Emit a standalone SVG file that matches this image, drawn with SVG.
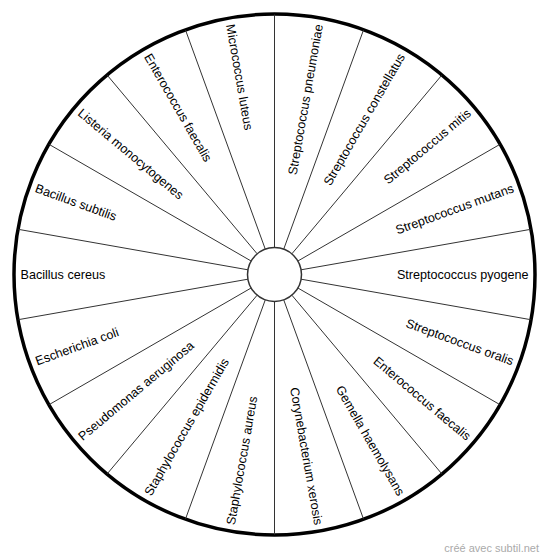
<svg xmlns="http://www.w3.org/2000/svg" width="550" height="559" viewBox="0 0 550 559">
<style>
.lbl{font-family:"Liberation Sans",Arial,sans-serif;font-size:12.6px;fill:#000}
.r{text-anchor:end}
.l{text-anchor:start}
.sp{stroke:#333;stroke-width:1;fill:none}
.foot{font-family:"Liberation Sans",Arial,sans-serif;font-size:11px;fill:#aaa;text-anchor:end}
</style>
<rect width="550" height="559" fill="#fff"/>
<g id="wheel">
<circle cx="274.5" cy="274.5" r="260.5" fill="#fff" stroke="#000" stroke-width="3.5"/>
</g>
<g id="connectors" class="sp">
<line x1="274.5" y1="247.5" x2="274.5" y2="14.5"/>
<line x1="283.73" y1="249.13" x2="363.43" y2="30.18"/>
<line x1="291.86" y1="253.82" x2="441.63" y2="75.33"/>
<line x1="297.88" y1="261" x2="499.67" y2="144.5"/>
<line x1="301.09" y1="269.81" x2="530.55" y2="229.35"/>
<line x1="301.09" y1="279.19" x2="530.55" y2="319.65"/>
<line x1="297.88" y1="288" x2="499.67" y2="404.5"/>
<line x1="291.86" y1="295.18" x2="441.63" y2="473.67"/>
<line x1="283.73" y1="299.87" x2="363.43" y2="518.82"/>
<line x1="274.5" y1="301.5" x2="274.5" y2="534.5"/>
<line x1="265.27" y1="299.87" x2="185.57" y2="518.82"/>
<line x1="257.14" y1="295.18" x2="107.37" y2="473.67"/>
<line x1="251.12" y1="288" x2="49.33" y2="404.5"/>
<line x1="247.91" y1="279.19" x2="18.45" y2="319.65"/>
<line x1="247.91" y1="269.81" x2="18.45" y2="229.35"/>
<line x1="251.12" y1="261" x2="49.33" y2="144.5"/>
<line x1="257.14" y1="253.82" x2="107.37" y2="75.33"/>
<line x1="265.27" y1="249.13" x2="185.57" y2="30.18"/>
</g>
<g id="hub">
<circle cx="274.5" cy="274.5" r="27" fill="#fff" stroke="#333" stroke-width="1.5"/>
</g>
<g id="n-s-pneumoniae"><text class="lbl r" x="528.5" y="274.5" dy="0.35em" transform="rotate(-80 274.5 274.5)">Streptococcus pneumoniae</text></g>
<g id="n-s-constellatus"><text class="lbl r" x="528.5" y="274.5" dy="0.35em" transform="rotate(-60 274.5 274.5)">Streptococcus constellatus</text></g>
<g id="n-s-mitis"><text class="lbl r" x="528.5" y="274.5" dy="0.35em" transform="rotate(-40 274.5 274.5)">Streptococcus mitis</text></g>
<g id="n-s-mutans"><text class="lbl r" x="528.5" y="274.5" dy="0.35em" transform="rotate(-20 274.5 274.5)">Streptococcus mutans</text></g>
<g id="n-s-pyogene"><text class="lbl r" x="528.5" y="274.5" dy="0.35em">Streptococcus pyogene</text></g>
<g id="n-s-oralis"><text class="lbl r" x="528.5" y="274.5" dy="0.35em" transform="rotate(20 274.5 274.5)">Streptococcus oralis</text></g>
<g id="n-e-faecalis-1"><text class="lbl r" x="528.5" y="274.5" dy="0.35em" transform="rotate(40 274.5 274.5)">Enterococcus faecalis</text></g>
<g id="n-g-haemolysans"><text class="lbl r" x="528.5" y="274.5" dy="0.35em" transform="rotate(60 274.5 274.5)">Gemella haemolysans</text></g>
<g id="n-c-xerosis"><text class="lbl r" x="528.5" y="274.5" dy="0.35em" transform="rotate(80 274.5 274.5)">Corynebacterium xerosis</text></g>
<g id="n-st-aureus"><text class="lbl l" x="20.5" y="274.5" dy="0.35em" transform="rotate(-80 274.5 274.5)">Staphylococcus aureus</text></g>
<g id="n-st-epidermidis"><text class="lbl l" x="20.5" y="274.5" dy="0.35em" transform="rotate(-60 274.5 274.5)">Staphylococcus epidermidis</text></g>
<g id="n-p-aeruginosa"><text class="lbl l" x="20.5" y="274.5" dy="0.35em" transform="rotate(-40 274.5 274.5)">Pseudomonas aeruginosa</text></g>
<g id="n-e-coli"><text class="lbl l" x="20.5" y="274.5" dy="0.35em" transform="rotate(-20 274.5 274.5)">Escherichia coli</text></g>
<g id="n-b-cereus"><text class="lbl l" x="20.5" y="274.5" dy="0.35em">Bacillus cereus</text></g>
<g id="n-b-subtilis"><text class="lbl l" x="20.5" y="274.5" dy="0.35em" transform="rotate(20 274.5 274.5)">Bacillus subtilis</text></g>
<g id="n-l-monocytogenes"><text class="lbl l" x="20.5" y="274.5" dy="0.35em" transform="rotate(40 274.5 274.5)">Listeria monocytogenes</text></g>
<g id="n-e-faecalis-2"><text class="lbl l" x="20.5" y="274.5" dy="0.35em" transform="rotate(60 274.5 274.5)">Enterococcus faecalis</text></g>
<g id="n-m-luteus"><text class="lbl l" x="20.5" y="274.5" dy="0.35em" transform="rotate(80 274.5 274.5)">Micrococcus luteus</text></g>
<g id="footer"><text class="foot" x="539" y="552">créé avec subtil.net</text></g>
</svg>
